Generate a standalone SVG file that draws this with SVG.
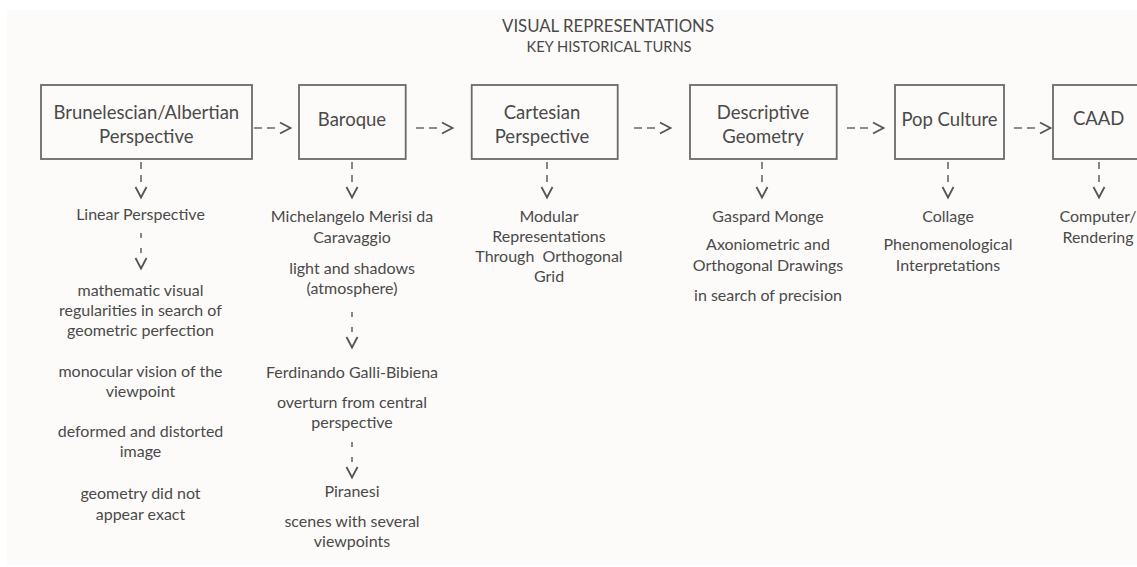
<svg xmlns="http://www.w3.org/2000/svg" width="1137" height="567" viewBox="0 0 1137 567">
<style>
  .bg { fill: #fcfbf9; }
  .box { fill: none; stroke: #6a6a6a; stroke-width: 1.8; }
  .t { font-family: Lato, "Liberation Sans", sans-serif; fill: #4a4a4a; text-anchor: middle; }
  .title { font-size: 16.8px; }
  .sub { font-size: 14.7px; }
  .lbl { font-size: 18.5px; }
  .txt { font-size: 16px; }
  .conn { fill: none; stroke: #6a6a6a; stroke-width: 1.6; }
  .h { stroke-dasharray: 8 5; }
  .v1 { stroke-dasharray: 7 6; }
  .v2 { stroke-dasharray: 5 10; }
  .head { fill: none; stroke: #555555; stroke-width: 1.8; }
</style>
<defs>
  <marker id="chev" markerUnits="userSpaceOnUse" markerWidth="20" markerHeight="16" refX="0" refY="6" orient="auto" overflow="visible">
    <path class="head" d="M5,0.5 L15.5,6 L5,11.5"/>
  </marker>
</defs>
<rect class="bg" x="7" y="10" width="1130" height="555"/>

<g id="title">
  <text class="t title" x="608" y="31.5">VISUAL REPRESENTATIONS</text>
  <text class="t sub" x="609" y="52">KEY HISTORICAL TURNS</text>
</g>

<g id="connectors">
  <line class="conn h" x1="254" y1="128" x2="275" y2="128" marker-end="url(#chev)"/>
  <line class="conn h" x1="416" y1="128" x2="437" y2="128" marker-end="url(#chev)"/>
  <line class="conn h" x1="634" y1="128" x2="655" y2="128" marker-end="url(#chev)"/>
  <line class="conn h" x1="847" y1="128" x2="868" y2="128" marker-end="url(#chev)"/>
  <line class="conn h" x1="1014" y1="128" x2="1035" y2="128" marker-end="url(#chev)"/>

  <line class="conn v1" x1="141" y1="162" x2="141" y2="182" marker-end="url(#chev)"/>
  <line class="conn v1" x1="352" y1="162" x2="352" y2="182" marker-end="url(#chev)"/>
  <line class="conn v1" x1="547" y1="162" x2="547" y2="182" marker-end="url(#chev)"/>
  <line class="conn v1" x1="762" y1="162" x2="762" y2="182" marker-end="url(#chev)"/>
  <line class="conn v1" x1="948" y1="162" x2="948" y2="182" marker-end="url(#chev)"/>
  <line class="conn v1" x1="1099" y1="162" x2="1099" y2="182" marker-end="url(#chev)"/>

  <line class="conn v2" x1="141" y1="233" x2="141" y2="253" marker-end="url(#chev)"/>
  <line class="conn v2" x1="352" y1="312" x2="352" y2="332" marker-end="url(#chev)"/>
  <line class="conn v2" x1="352" y1="442" x2="352" y2="462" marker-end="url(#chev)"/>
</g>

<g id="node-brunelescian">
  <rect class="box" x="41" y="85" width="211" height="74"/>
  <text class="t lbl" x="146.3" y="119.3">Brunelescian/Albertian</text>
  <text class="t lbl" x="146.3" y="142.7">Perspective</text>
</g>
<g id="node-baroque">
  <rect class="box" x="299" y="85" width="106.7" height="74"/>
  <text class="t lbl" x="352" y="126">Baroque</text>
</g>
<g id="node-cartesian">
  <rect class="box" x="471.7" y="85" width="146" height="74"/>
  <text class="t lbl" x="542" y="119.3">Cartesian</text>
  <text class="t lbl" x="542" y="142.7">Perspective</text>
</g>
<g id="node-descriptive">
  <rect class="box" x="690" y="85" width="146.7" height="74"/>
  <text class="t lbl" x="763" y="119.3">Descriptive</text>
  <text class="t lbl" x="763" y="142.7">Geometry</text>
</g>
<g id="node-popculture">
  <rect class="box" x="895" y="85" width="109" height="74"/>
  <text class="t lbl" x="949.5" y="126">Pop Culture</text>
</g>
<g id="node-caad">
  <rect class="box" x="1053" y="85" width="95" height="74"/>
  <text class="t lbl" x="1098.7" y="125">CAAD</text>
</g>

<g id="col-brunelescian">
  <text class="t txt" x="140.5" y="220">Linear Perspective</text>
  <text class="t txt" x="140.5" y="295.5">mathematic visual</text>
  <text class="t txt" x="140.5" y="315.5">regularities in search of</text>
  <text class="t txt" x="140.5" y="335.5">geometric perfection</text>
  <text class="t txt" x="140.5" y="376.5">monocular vision of the</text>
  <text class="t txt" x="140.5" y="397">viewpoint</text>
  <text class="t txt" x="140.5" y="437">deformed and distorted</text>
  <text class="t txt" x="140.5" y="457">image</text>
  <text class="t txt" x="140.5" y="499">geometry did not</text>
  <text class="t txt" x="140.5" y="519.5">appear exact</text>
</g>
<g id="col-baroque">
  <text class="t txt" x="352" y="221.5">Michelangelo Merisi da</text>
  <text class="t txt" x="352" y="242.5">Caravaggio</text>
  <text class="t txt" x="352" y="274">light and shadows</text>
  <text class="t txt" x="352" y="294">(atmosphere)</text>
  <text class="t txt" x="352" y="378">Ferdinando Galli-Bibiena</text>
  <text class="t txt" x="352" y="407.5">overturn from central</text>
  <text class="t txt" x="352" y="428">perspective</text>
  <text class="t txt" x="352" y="496.5">Piranesi</text>
  <text class="t txt" x="352" y="526.5">scenes with several</text>
  <text class="t txt" x="352" y="546.5">viewpoints</text>
</g>
<g id="col-cartesian">
  <text class="t txt" x="549" y="222">Modular</text>
  <text class="t txt" x="549" y="242">Representations</text>
  <text class="t txt" x="549" y="262" xml:space="preserve">Through  Orthogonal</text>
  <text class="t txt" x="549" y="282">Grid</text>
</g>
<g id="col-descriptive">
  <text class="t txt" x="768" y="221.5">Gaspard Monge</text>
  <text class="t txt" x="768" y="250">Axoniometric and</text>
  <text class="t txt" x="768" y="271">Orthogonal Drawings</text>
  <text class="t txt" x="768" y="301">in search of precision</text>
</g>
<g id="col-popculture">
  <text class="t txt" x="948" y="221.5">Collage</text>
  <text class="t txt" x="948" y="250">Phenomenological</text>
  <text class="t txt" x="948" y="271">Interpretations</text>
</g>
<g id="col-caad">
  <text class="t txt" x="1098" y="221.5">Computer/</text>
  <text class="t txt" x="1098" y="243">Rendering</text>
</g>
</svg>
